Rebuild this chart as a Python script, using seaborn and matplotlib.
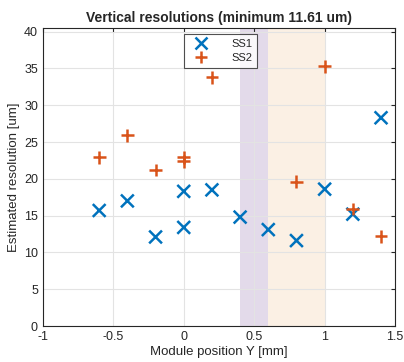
import matplotlib
matplotlib.use("Agg")
import matplotlib.pyplot as plt
import seaborn as sns
import pandas as pd

ss1_x = [-0.6, -0.4, -0.2, 0.0, 0.0, 0.2, 0.4, 0.6, 0.8, 1.0, 1.2, 1.4]
ss1_y = [15.7, 17.0, 12.1, 18.3, 13.4, 18.5, 14.8, 13.1, 11.61, 18.6, 15.2, 28.3]
ss2_x = [-0.6, -0.4, -0.2, 0.0, 0.0, 0.2, 0.8, 1.0, 1.2, 1.4]
ss2_y = [22.9, 25.9, 21.2, 22.9, 22.4, 33.8, 19.6, 35.3, 15.9, 12.2]
x_ticks = [-1, -0.5, 0, 0.5, 1, 1.5]
x_tick_labels = ["-1", "-0.5", "0", "0.5", "1", "1.5"]
y_ticks = [0, 5, 10, 15, 20, 25, 30, 35, 40]
band1 = (0.4, 0.6)
band2 = (0.6, 1.0)

df = pd.concat([
    pd.DataFrame({"x": ss1_x, "y": ss1_y, "series": "SS1"}),
    pd.DataFrame({"x": ss2_x, "y": ss2_y, "series": "SS2"}),
])

sns.set_style("white")
plt.rcParams["font.family"] = ["Liberation Sans", "DejaVu Sans"]

fig = plt.figure(figsize=(4.04, 3.62), dpi=100)
ax = fig.add_axes([0.106, 0.0994, 0.872, 0.8233])

ax.axvspan(*band1, color="#E3DAEA", zorder=0, lw=0)
ax.axvspan(*band2, color="#FBF0E4", zorder=0, lw=0)

sns.scatterplot(data=df, x="x", y="y", hue="series", style="series",
                markers={"SS1": "x", "SS2": "+"},
                palette={"SS1": "#0072BD", "SS2": "#D95319"},
                s=85, linewidth=1.8, ax=ax, zorder=3)

ax.set_xlim(-1, 1.5)
ax.set_ylim(0, 40.5)
ax.set_xticks(x_ticks)
ax.set_xticklabels(x_tick_labels)
ax.set_yticks(y_ticks)
ax.grid(True, color="#E3E3E3", lw=0.8, zorder=1)
ax.set_axisbelow(True)
ax.tick_params(direction="in", length=3, top=True, right=True,
               labelsize=9, colors="#262626", width=0.8)
for sp in ax.spines.values():
    sp.set_color("#262626")
    sp.set_linewidth(0.8)

ax.set_xlabel("Module position Y [mm]", fontsize=9.5, color="#262626", labelpad=2)
ax.set_ylabel("Estimated resolution [um]", fontsize=9.5, color="#262626", labelpad=3)
ax.set_title("Vertical resolutions (minimum 11.61 um)", fontsize=10,
             fontweight="bold", pad=4)

leg = ax.legend(loc="upper center", bbox_to_anchor=(0.505, 0.98), fontsize=8,
                frameon=True, fancybox=False, edgecolor="#262626",
                borderpad=0.45, handletextpad=1.6, labelspacing=0.35,
                handlelength=2.2, borderaxespad=0, title=None)
leg.get_frame().set_linewidth(0.8)

fig.savefig("out.png", dpi=100)
